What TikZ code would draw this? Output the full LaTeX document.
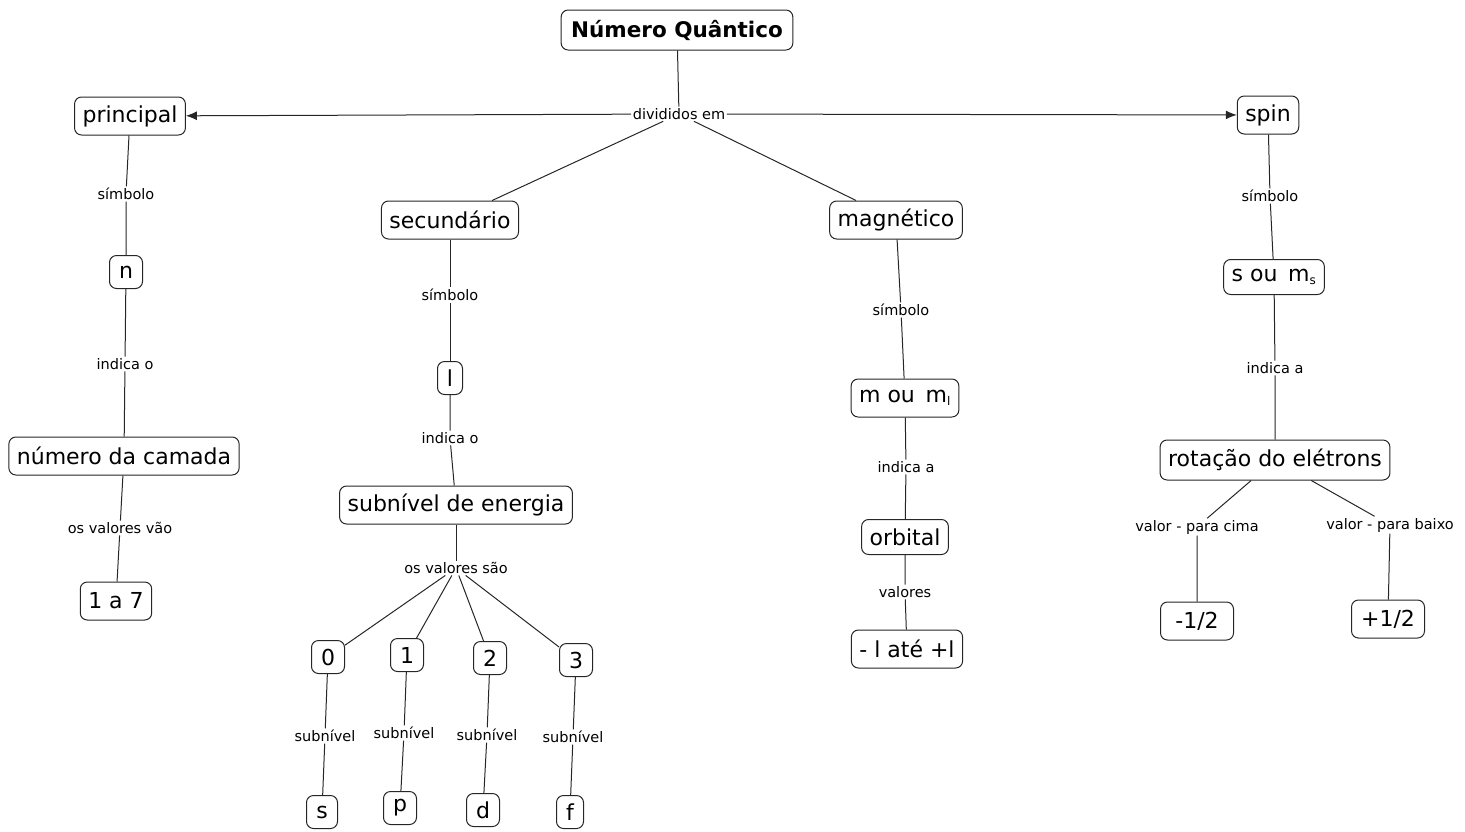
\documentclass[tikz,border=0pt]{standalone}
\usepackage{fontspec}
\setmainfont{DejaVu Sans}
\usetikzlibrary{arrows.meta}
\tikzset{
  concept/.style={draw=black!85, rounded corners=7pt, line width=1pt, font=\fontsize{22}{26}\selectfont, inner xsep=8pt, inner ysep=4pt, minimum height=38pt, fill=white},
  small/.style={concept, minimum width=33pt, minimum height=33pt, inner xsep=4pt},
  lbl/.style={font=\fontsize{14.5}{17}\selectfont, inner sep=1.5pt, fill=white},
  conn/.style={line width=1pt, draw=black!85},
  arr/.style={conn, -{Latex[length=11pt,width=9pt]}}
}
\begin{document}
\begin{tikzpicture}[x=1pt,y=-1pt]
\useasboundingbox (0,0) rectangle (1465,831);
% nodes
\node[concept, font=\bfseries\fontsize{21.5}{26}\selectfont, minimum height=40pt, inner xsep=10pt] (nq) at (677,30) {Número Quântico};
\node[lbl] (div) at (679,114) {divididos em};
\node[concept] (princ) at (130,116) {principal};
\node[concept] (spin) at (1268,115) {spin};
\node[concept] (sec) at (450,220) {secundário};
\node[concept] (mag) at (896,220) {magnético};
% principal branch
\node[lbl] (l1) at (126,194) {símbolo};
\node[small] (n) at (126,272) {n};
\node[lbl] (l2) at (125,364) {indica o};
\node[concept] (cam) at (124,456) {número da camada};
\node[lbl] (l3) at (120,528) {os valores vão};
\node[concept] (v17) at (116,601) {1 a 7};
% secundario branch
\node[lbl] (l4) at (450,295) {símbolo};
\node[small, minimum width=25pt] (l) at (450,378) {l};
\node[lbl] (l5) at (450,438) {indica o};
\node[concept] (sub) at (456,505) {subnível de energia};
\node[lbl] (l6) at (456,568) {os valores são};
\node[small] (z0) at (328,657) {0};
\node[small] (z1) at (407,655) {1};
\node[small] (z2) at (490,658) {2};
\node[small] (z3) at (576,660) {3};
\node[lbl] (s0) at (325,736) {subnível};
\node[lbl] (s1) at (404,733) {subnível};
\node[lbl] (s2) at (487,735) {subnível};
\node[lbl] (s3) at (573,737) {subnível};
\node[small, minimum width=31pt] (ss) at (322,812) {s};
\node[small] (sp) at (400,808) {p};
\node[small] (sd) at (483,810) {d};
\node[small, minimum width=27pt] (sf) at (570,812) {f};
% magnetico branch
\node[lbl] (l7) at (901,310) {símbolo};
\node[concept] (mml) at (905,398) {m ou \,m\textsubscript{\fontsize{12}{12}\selectfont l}};
\node[lbl] (l8) at (906,467) {indica a};
\node[concept, minimum height=35pt] (orb) at (905,537) {orbital};
\node[lbl] (l9) at (905,592) {valores};
\node[concept] (lal) at (907,649) {- l até +l};
% spin branch
\node[lbl] (l10) at (1270,196) {símbolo};
\node[concept, minimum height=35pt] (sms) at (1274,277) {s ou \,m\textsubscript{\fontsize{12}{12}\selectfont s}};
\node[lbl] (l11) at (1275,368) {indica a};
\node[concept, minimum height=40pt] (rot) at (1275,460) {rotação do elétrons};
\node[lbl] (l12) at (1197,527) {valor - para cima};
\node[lbl] (l13) at (1390,525) {valor - para baixo};
\node[concept, minimum width=73pt] (mh) at (1197,621) {-1/2};
\node[concept, minimum width=73pt] (ph) at (1388,619) {+1/2};
% connectors
\draw[conn] (nq) -- (div);
\draw[arr] (div) -- (princ);
\draw[arr] (div) -- (spin);
\draw[conn] (div) -- (sec);
\draw[conn] (div) -- (mag);
\draw[conn] (princ) -- (l1) -- (n);
\draw[conn] (n) -- (l2) -- (cam);
\draw[conn] (cam) -- (l3) -- (v17);
\draw[conn] (sec) -- (l4) -- (l);
\draw[conn] (l) -- (l5) -- (sub);
\draw[conn] (sub) -- (l6);
\draw[conn] (l6) -- (z0);
\draw[conn] (l6) -- (z1);
\draw[conn] (l6) -- (z2);
\draw[conn] (l6) -- (z3);
\draw[conn] (z0) -- (s0) -- (ss);
\draw[conn] (z1) -- (s1) -- (sp);
\draw[conn] (z2) -- (s2) -- (sd);
\draw[conn] (z3) -- (s3) -- (sf);
\draw[conn] (mag) -- (l7) -- (mml);
\draw[conn] (mml) -- (l8) -- (orb);
\draw[conn] (orb) -- (l9) -- (lal);
\draw[conn] (spin) -- (l10) -- (sms);
\draw[conn] (sms) -- (l11) -- (rot);
\draw[conn] (rot) -- (l12) -- (mh);
\draw[conn] (rot) -- (l13) -- (ph);
\end{tikzpicture}
\end{document}
